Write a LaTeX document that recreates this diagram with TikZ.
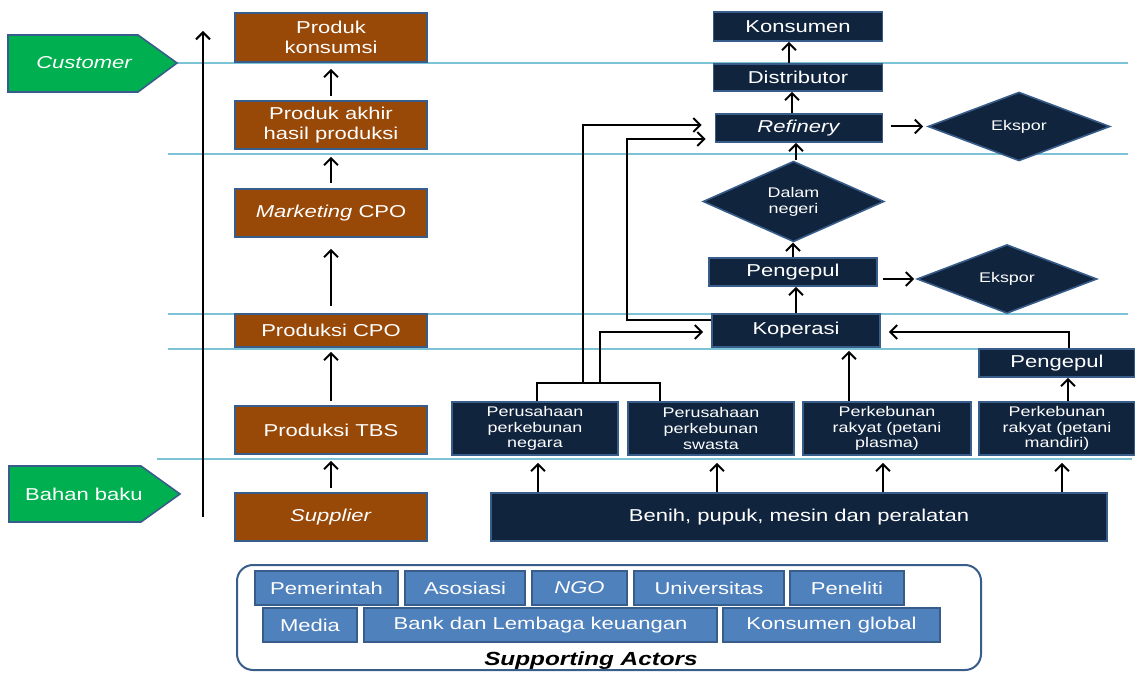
\documentclass[tikz,border=0pt]{standalone}
\usepackage{fontspec}
\setmainfont{Liberation Sans}[FakeStretch=1.28]
\usetikzlibrary{shapes.geometric,arrows.meta}
\definecolor{brownfill}{HTML}{984807}
\definecolor{navyfill}{HTML}{10243E}
\definecolor{edgeblue}{HTML}{385D8A}
\definecolor{actorfill}{HTML}{4F81BD}
\definecolor{greenfill}{HTML}{00B050}
\definecolor{bandblue}{HTML}{7CC3D6}

\begin{document}
\begin{tikzpicture}[x=0.5pt, y=-0.5pt,
  band/.style={draw=bandblue, line width=0.9pt},
  brownbox/.style={draw=edgeblue, fill=brownfill, line width=0.8pt, text=white, align=center, inner sep=0pt, font=\fontsize{8.6}{9.8}\selectfont},
  navybox/.style={draw=edgeblue, fill=navyfill, line width=0.8pt, text=white, align=center, inner sep=0pt, font=\fontsize{8.6}{9.8}\selectfont},
  navysmall/.style={navybox, font=\fontsize{7}{7.9}\selectfont},
  navydiamond/.style={diamond, navybox, font=\fontsize{7}{7.9}\selectfont},
  actorbox/.style={draw=edgeblue, fill=actorfill, line width=0.8pt, text=white, inner sep=0pt, minimum height=17pt, font=\fontsize{8.6}{9.8}\selectfont},
  greenshape/.style={draw=edgeblue, fill=greenfill, line width=0.8pt},
  arr/.style={->, >={Straight Barb[length=3.5pt,width=7pt]}, line width=1pt}]

\useasboundingbox (0,0) rectangle (1135,673);

% horizontal bands
\draw[band] (177,63) -- (1128,63);
\draw[band] (168,154) -- (1128,154);
\draw[band] (168,314) -- (1128,314);
\draw[band] (168,349) -- (1128,349);
\draw[band] (157,459) -- (1132,459);

% customer and raw material
\draw[greenshape] (8,35) -- (138,35) -- (177,63) -- (138,92) -- (8,92) -- cycle;
\node[text=white, font=\fontsize{8.6}{9.8}\selectfont\itshape] (customer) at (84,63) {Customer};
\draw[greenshape] (9,466) -- (141,466) -- (180,494) -- (141,522) -- (9,522) -- cycle;
\node[text=white, font=\fontsize{8.6}{9.8}\selectfont] (bahan) at (84,494) {Bahan baku};

\coordinate (axisbot) at (203,517);
\coordinate (axistop) at (203,31);
\draw[arr] (axisbot) -- (axistop);

\pgfmathsetmacro\lx{331}

% left chain
\node[brownbox, minimum width=96pt, minimum height=24.5pt] (produk) at (\lx,37.5) {Produk\\konsumsi};
\node[brownbox, minimum width=96pt, minimum height=24pt] (akhir) at (\lx,125) {Produk akhir\\hasil produksi};
\node[brownbox, minimum width=96pt, minimum height=24pt] (marketing) at (\lx,213) {\textit{Marketing} CPO};
\node[brownbox, minimum width=96pt, minimum height=16.5pt] (cpo) at (\lx,330.5) {Produksi CPO};
\node[brownbox, minimum width=96pt, minimum height=24pt] (tbs) at (\lx,430) {Produksi TBS};
\node[brownbox, minimum width=96pt, minimum height=24pt] (supplier) at (\lx,517) {\textit{Supplier}};

\draw[arr, shorten <=2pt, shorten >=3pt] (supplier) -- (tbs);
\draw[arr, shorten <=2pt, shorten >=2pt] (tbs) -- (cpo);
\draw[arr, shorten <=3.5pt, shorten >=5.5pt] (cpo) -- (marketing);
\draw[arr, shorten <=2.5pt, shorten >=3.5pt] (marketing) -- (akhir);
\draw[arr, shorten <=2pt, shorten >=3pt] (akhir) -- (produk);

\pgfmathsetmacro\rx{796}

% right chain
\node[navybox, minimum width=84.5pt, minimum height=14.5pt] (konsumen) at (\rx+2,26.5) {Konsumen};
\node[navybox, minimum width=84.5pt, minimum height=13.5pt] (distributor) at (\rx+2,77.5) {Distributor};
\node[navybox, minimum width=83.5pt, minimum height=14pt] (refinery) at (\rx+3,128) {\textit{Refinery}};
\node[navydiamond, minimum width=90.5pt, minimum height=33.5pt] (dalam) at (\rx-2.5,201.5) {Dalam\\negeri};
\node[navybox, minimum width=84pt, minimum height=14pt] (pengepul) at (\rx-3,272) {Pengepul};
\node[navybox, minimum width=84pt, minimum height=16.5pt] (koperasi) at (\rx,330.5) {Koperasi};

\node[navydiamond, minimum width=91pt, minimum height=25.5pt] (ekspora) at (1019,126.5) {Ekspor};
\node[navydiamond, minimum width=90pt, minimum height=33pt] (eksporb) at (1007,279) {Ekspor};

\draw[arr] ([xshift=-4.5pt]distributor.north) -- ([xshift=-4.5pt]distributor.north |- konsumen.south);
\draw[arr] ([xshift=-3.5pt]refinery.north) -- ([xshift=-3.5pt]refinery.north |- distributor.south);
\draw[arr] (dalam.north -| koperasi) -- (koperasi |- refinery.south);
\draw[arr] (pengepul.north) -- (pengepul.north |- dalam.south);
\draw[arr] (koperasi.north) -- (koperasi.north |- pengepul.south);
\draw[arr, shorten <=4pt, shorten >=2pt] (refinery.east |- ekspora) -- (ekspora.west);
\draw[arr, shorten <=2.5pt, shorten >=1pt] (pengepul.east |- eksporb) -- (eksporb.west);

% producers
\node[navybox, minimum width=78pt, minimum height=14pt] (pengepulb) at (1057,363) {Pengepul};
\node[navysmall, minimum width=83pt, minimum height=26.5pt] (negara) at (535,428.5) {Perusahaan\\perkebunan\\negara};
\node[navysmall, minimum width=83pt, minimum height=26.5pt] (swasta) at (711,428.5) {Perusahaan\\perkebunan\\swasta};
\node[navysmall, minimum width=84pt, minimum height=26.5pt] (plasma) at (887,428.5) {Perkebunan\\rakyat (petani\\plasma)};
\node[navysmall, minimum width=78pt, minimum height=26.5pt] (mandiri) at (1057,428.5) {Perkebunan\\rakyat (petani\\mandiri)};
\node[navybox, minimum width=308pt, minimum height=24pt] (benih) at (799,517) {Benih, pupuk, mesin dan peralatan};

\draw[arr, shorten >=3.5pt] ([xshift=1.5pt]benih.north -| negara) -- ([xshift=1.5pt]negara.south);
\draw[arr, shorten >=3.5pt] ([xshift=3pt]benih.north -| swasta) -- ([xshift=3pt]swasta.south);
\draw[arr, shorten >=3.5pt] ([xshift=-2pt]benih.north -| plasma) -- ([xshift=-2pt]plasma.south);
\draw[arr, shorten >=3.5pt] ([xshift=2.5pt]benih.north -| mandiri) -- ([xshift=2.5pt]mandiri.south);

\draw[arr] ([xshift=5.5pt]mandiri.north) -- ([xshift=5.5pt]pengepulb.south);
\draw[arr, shorten >=4pt] ([xshift=6pt]pengepulb.north) |- ([yshift=-0.75pt]koperasi.east);
\draw[arr, shorten >=1.5pt] ([xshift=-19pt]plasma.north) -- ([xshift=-19pt]plasma.north |- koperasi.south);

% company bus
\coordinate (busa) at (583,383);
\coordinate (busb) at (600,383);
\draw[line width=1pt] ([xshift=1pt]negara.north) |- (busb) -| ([xshift=-25.5pt]swasta.north);
\draw[arr, shorten >=6.5pt] (busa) |- ([yshift=1.5pt]refinery.west);
\draw[arr, shorten >=4pt] (busb) |- ([yshift=-0.75pt]koperasi.west);
\draw[arr, shorten >=4.5pt] ([yshift=5.25pt]koperasi.west) -- ++(-42pt,0) |- ([yshift=-5.5pt]refinery.west);

% supporting actors
\node[draw=edgeblue, line width=1pt, rounded corners=8pt, minimum width=372pt, minimum height=52.5pt] (actors) at (609,617.5) {};
\node[actorbox, minimum width=71.5pt] (pemerintah) at (326.5,588) {Pemerintah};
\node[actorbox, minimum width=60pt] (asosiasi) at (465,588) {Asosiasi};
\node[actorbox, minimum width=47.5pt] (ngo) at (579.5,588) {\textit{NGO}};
\node[actorbox, minimum width=75pt] (universitas) at (709,588) {Universitas};
\node[actorbox, minimum width=57pt] (peneliti) at (847,588) {Peneliti};
\node[actorbox, minimum width=47pt] (media) at (310,625) {Media};
\node[actorbox, minimum width=176.5pt] (bank) at (540.5,625) {Bank dan Lembaga keuangan};
\node[actorbox, minimum width=108.5pt] (global) at (831.5,625) {Konsumen global};
\node[font=\fontsize{9.5}{11}\selectfont\bfseries\itshape] (actorlabel) at (591,661) {Supporting Actors};

\end{tikzpicture}
\end{document}
